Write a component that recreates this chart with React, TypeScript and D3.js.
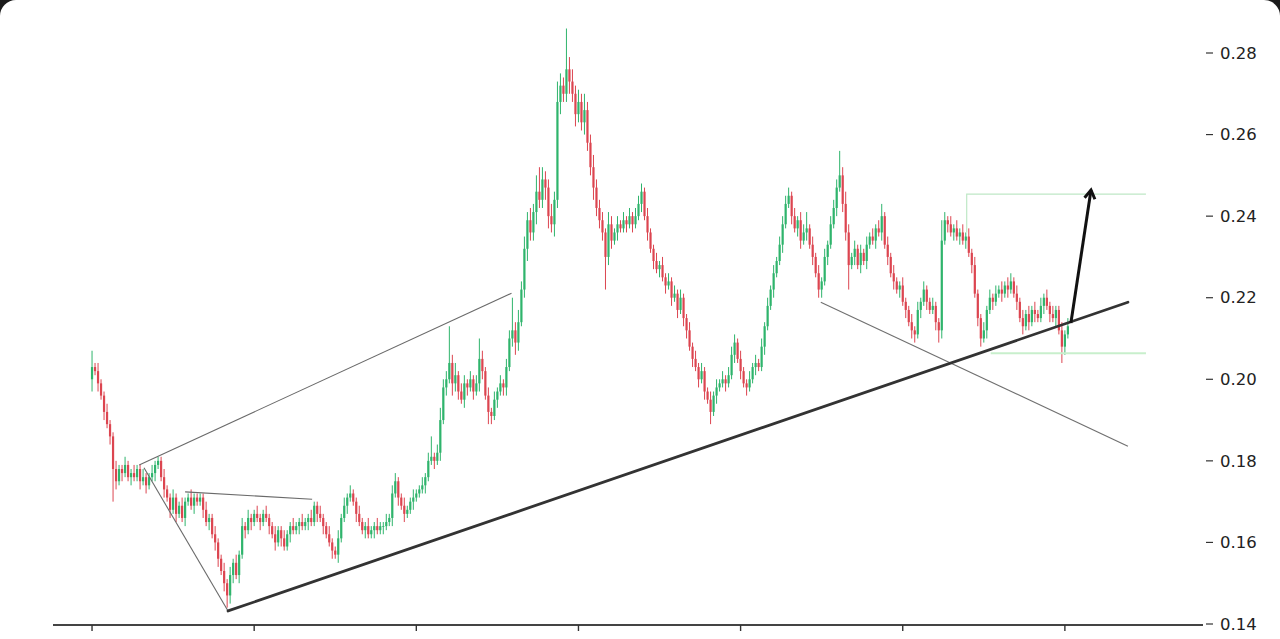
import * as d3 from "d3"

// candle closes in thousandths of a unit, one per bar
const firstOpen = 200
const closes = [
  203, 202, 199, 196, 192, 189, 186, 178, 175, 178,
  177, 179, 176, 177, 176, 178, 175, 176, 174, 176,
  177, 179, 180, 176, 173, 171, 168, 171, 167, 169,
  166, 170, 171, 169, 171, 170, 171, 168, 165, 166,
  162, 160, 156, 153, 150, 147, 152, 155, 152, 157,
  164, 163, 166, 165, 167, 166, 165, 167, 166, 164,
  162, 160, 163, 161, 159, 162, 164, 163, 164, 165,
  164, 165, 166, 165, 169, 167, 166, 164, 162, 160,
  158, 157, 161, 166, 169, 171, 172, 170, 167, 165,
  163, 164, 162, 163, 164, 163, 164, 164, 165, 166,
  172, 175, 171, 169, 167, 168, 170, 171, 172, 173,
  174, 176, 180, 181, 180, 182, 190, 198, 200, 204,
  199, 201, 197, 195, 199, 198, 200, 197, 199, 205,
  202, 196, 192, 191, 195, 197, 199, 198, 203, 210,
  212, 209, 214, 222, 232, 239, 236, 241, 246, 244,
  249, 247, 240, 238, 244, 268, 272, 270, 276, 273,
  270, 265, 268, 263, 266, 258, 252, 247, 242, 239,
  236, 230, 238, 234, 236, 238, 237, 239, 238, 240,
  238, 240, 243, 246, 240, 236, 232, 229, 227, 228,
  225, 223, 224, 220, 221, 217, 220, 215, 212, 208,
  205, 203, 200, 202, 197, 195, 192, 196, 198, 199,
  200, 199, 201, 206, 209, 205, 202, 199, 198, 200,
  203, 204, 203, 208, 213, 218, 222, 226, 229, 233,
  238, 243, 245, 240, 237, 239, 234, 236, 237, 233,
  230, 226, 222, 224, 230, 233, 238, 242, 247, 250,
  243, 236, 228, 230, 232, 228, 231, 229, 233, 235,
  234, 237, 236, 240, 233, 230, 226, 224, 222, 223,
  219, 217, 214, 212, 211, 217, 219, 222, 219, 217,
  218, 214, 212, 234, 239, 238, 236, 237, 235, 236,
  234, 235, 231, 228, 221, 215, 210, 212, 217, 220,
  219, 221, 222, 221, 223, 222, 224, 221, 219, 215,
  213, 216, 214, 217, 216, 215, 218, 220, 218, 216,
  215, 217, 212, 208, 211, 213,
]

// upper wick length above the body, thousandths
const wickUp = [
  4, 1, 2, 1, 1, 2, 1, 1, 2, 1,
  1, 2, 1, 1, 2, 1, 1, 2, 1, 1,
  2, 1, 1, 1, 2, 1, 1, 2, 1, 1,
  2, 1, 1, 2, 1, 1, 1, 1, 2, 1,
  1, 2, 1, 1, 2, 1, 2, 1, 2, 1,
  2, 1, 2, 1, 1, 2, 1, 1, 2, 1,
  1, 2, 1, 1, 2, 1, 1, 2, 1, 1,
  2, 1, 1, 2, 1, 1, 2, 1, 1, 2,
  1, 1, 2, 1, 2, 1, 2, 1, 1, 2,
  1, 1, 2, 1, 1, 2, 1, 1, 2, 1,
  2, 2, 1, 1, 2, 1, 1, 2, 1, 1,
  2, 1, 2, 5, 1, 2, 3, 2, 2, 9,
  2, 3, 1, 2, 2, 1, 2, 1, 2, 5,
  2, 1, 2, 1, 2, 1, 2, 1, 2, 2,
  8, 2, 3, 2, 3, 2, 3, 2, 4, 6,
  3, 2, 2, 3, 2, 5, 3, 2, 10, 3,
  3, 2, 3, 2, 4, 2, 2, 3, 2, 2,
  2, 1, 3, 2, 1, 2, 1, 2, 1, 2,
  1, 2, 2, 2, 1, 2, 1, 1, 2, 1,
  2, 1, 2, 1, 2, 1, 2, 1, 1, 2,
  1, 2, 1, 2, 1, 1, 2, 1, 2, 1,
  2, 1, 2, 2, 2, 1, 2, 1, 1, 2,
  1, 2, 1, 2, 1, 2, 1, 2, 1, 2,
  2, 2, 2, 1, 2, 1, 2, 2, 4, 1,
  2, 1, 2, 1, 2, 1, 2, 2, 2, 6,
  2, 3, 2, 1, 2, 1, 2, 1, 2, 1,
  2, 1, 2, 3, 1, 2, 1, 2, 1, 1,
  2, 1, 1, 2, 1, 2, 1, 2, 1, 1,
  2, 1, 1, 5, 2, 1, 2, 1, 2, 1,
  2, 1, 2, 1, 2, 1, 1, 2, 1, 2,
  1, 2, 1, 2, 1, 2, 2, 1, 2, 1,
  2, 1, 2, 1, 2, 1, 2, 1, 2, 1,
  2, 1, 1, 2, 1, 2,
]

// lower wick length below the body, thousandths
const wickDn = [
  3, 1, 2, 1, 2, 1, 2, 8, 2, 1,
  2, 1, 1, 2, 1, 1, 2, 1, 2, 1,
  1, 2, 1, 1, 2, 1, 2, 1, 2, 1,
  1, 2, 1, 1, 2, 1, 1, 2, 1, 2,
  1, 2, 2, 1, 2, 3, 2, 2, 1, 2,
  1, 2, 1, 2, 1, 1, 2, 1, 1, 2,
  1, 2, 1, 2, 1, 1, 2, 1, 1, 2,
  1, 1, 2, 1, 1, 2, 1, 2, 1, 1,
  2, 1, 2, 1, 1, 2, 1, 1, 2, 1,
  1, 2, 1, 1, 2, 1, 1, 2, 1, 1,
  2, 1, 2, 1, 2, 1, 1, 2, 1, 1,
  1, 2, 1, 1, 2, 1, 2, 1, 2, 1,
  3, 2, 2, 1, 2, 2, 1, 2, 1, 2,
  2, 1, 3, 2, 1, 2, 1, 2, 2, 1,
  2, 3, 2, 1, 2, 3, 2, 2, 3, 2,
  2, 3, 3, 2, 3, 2, 3, 2, 2, 3,
  2, 3, 2, 2, 3, 2, 2, 3, 2, 2,
  2, 8, 2, 2, 1, 2, 1, 1, 2, 1,
  2, 1, 1, 2, 1, 2, 1, 2, 1, 2,
  1, 2, 1, 2, 1, 2, 1, 2, 2, 1,
  2, 1, 2, 1, 2, 1, 3, 1, 2, 1,
  1, 2, 1, 1, 2, 1, 2, 1, 2, 1,
  1, 2, 1, 1, 2, 1, 1, 2, 1, 1,
  2, 1, 1, 2, 1, 2, 2, 1, 2, 1,
  2, 1, 2, 2, 1, 2, 1, 1, 2, 1,
  2, 2, 6, 1, 2, 1, 2, 1, 2, 1,
  1, 2, 1, 2, 1, 2, 1, 2, 1, 2,
  1, 2, 1, 2, 2, 1, 2, 1, 2, 1,
  1, 2, 3, 2, 1, 2, 1, 2, 1, 2,
  1, 2, 1, 2, 1, 2, 2, 1, 2, 1,
  2, 1, 1, 2, 1, 2, 1, 1, 2, 1,
  2, 1, 2, 1, 2, 1, 1, 2, 1, 2,
  1, 2, 1, 4, 2, 1,
]

const priceTicks = [0.14, 0.16, 0.18, 0.2, 0.22, 0.24, 0.26, 0.28]
const barTicks = [0, 54, 108, 162, 216, 270, 324]

// hand-drawn studies: [bar index, price in thousandths]
const supportLine = [[45.3, 143.2], [345, 218.9]]
const channelTop = [[15.7, 179], [139.7, 221.1]]
const wedgeLow = [[17.3, 178.3], [45.3, 143.2]]
const wedgeTop = [[31, 172.4], [73.3, 170.6]]
const fallLine = [[242.7, 218.9], [345, 183.6]]
const targetTop = [[291.3, 236], [291.3, 245.4], [351, 245.4]]
const targetLow = [[299.3, 206.4], [351, 206.4]]
const arrowPath = [[326, 213.8], [332.7, 246.4]]

const W = 1280
const H = 639
const GREEN = "#2fb46c"
const RED = "#dc4550"

export default function App() {
  const x = d3.scaleLinear().domain([-13, 370]).range([53, 1203])
  const y = d3.scaleLinear().domain([0.14, 0.28]).range([624, 53])
  const yk = (v: number) => y(v / 1000)
  const line = d3.line<number[]>().x(d => x(d[0])).y(d => yk(d[1]))

  const candles = closes.map((c, i) => {
    const o = i === 0 ? firstOpen : closes[i - 1]
    const hi = Math.max(o, c) + wickUp[i]
    const lo = Math.min(o, c) - wickDn[i]
    return { i, o, c, hi, lo, up: c >= o }
  })

  // arrow head
  const [a0, a1] = arrowPath
  const tx = x(a1[0]), ty = yk(a1[1])
  const ang = Math.atan2(ty - yk(a0[1]), tx - x(a0[0]))
  const hl = 10, spread = 0.55
  const head = `M${tx - hl * Math.cos(ang - spread)},${ty - hl * Math.sin(ang - spread)}L${tx},${ty}L${tx - hl * Math.cos(ang + spread)},${ty - hl * Math.sin(ang + spread)}`

  const r = 16
  const frame = `M0,${r}A${r},${r} 0 0 1 ${r},0L${W - r},0A${r},${r} 0 0 1 ${W},${r}L${W},${H}L0,${H}Z`

  return (
    <svg width={W} height={H} style={{ position: "absolute", left: 0, top: 0, display: "block" }}
      fontFamily="DejaVu Sans, sans-serif">
      <rect width={W} height={H} fill="#1b1b1b" />
      <path d={frame} fill="#ffffff" />

      <g>
        {candles.map(d => {
          const cx = x(d.i)
          const col = d.up ? GREEN : RED
          const top = yk(Math.max(d.o, d.c))
          const bot = yk(Math.min(d.o, d.c))
          return (
            <g key={d.i}>
              <line x1={cx} x2={cx} y1={yk(d.hi)} y2={yk(d.lo)} stroke={col} strokeWidth={1} />
              <rect x={cx - 1.1} width={2.2} y={top} height={Math.max(0.8, bot - top)} fill={col} />
            </g>
          )
        })}
      </g>

      <g fill="none">
        <path d={line(channelTop) || ""} stroke="#6a6a6a" strokeWidth={1.1} />
        <path d={line(wedgeLow) || ""} stroke="#6a6a6a" strokeWidth={1.1} />
        <path d={line(wedgeTop) || ""} stroke="#6a6a6a" strokeWidth={1.1} />
        <path d={line(fallLine) || ""} stroke="#707070" strokeWidth={1.1} />
        <path d={line(targetTop) || ""} stroke="#bfe8c6" strokeWidth={1.2} />
        <path d={line(targetLow) || ""} stroke="#c8efcc" strokeWidth={2} />
        <path d={line(supportLine) || ""} stroke="#333333" strokeWidth={2.8} strokeLinecap="round" />
        <path d={line(arrowPath) || ""} stroke="#111111" strokeWidth={3} />
        <path d={head} stroke="#111111" strokeWidth={3} strokeLinejoin="miter" />
      </g>

      <g>
        <line x1={x(-13)} x2={x(370)} y1={625} y2={625} stroke="#444" strokeWidth={2} />
        {barTicks.map(t => (
          <line key={t} x1={x(t)} x2={x(t)} y1={625} y2={631} stroke="#333" strokeWidth={1.4} />
        ))}
      </g>

      <g fontSize={16.5} fill="#222">
        {priceTicks.map(t => (
          <g key={t} transform={`translate(0,${y(t)})`}>
            <line x1={1206} x2={1213} stroke="#333" strokeWidth={1.2} />
            <text x={1220} dy="0.35em">{d3.format(".2f")(t)}</text>
          </g>
        ))}
      </g>
    </svg>
  )
}
